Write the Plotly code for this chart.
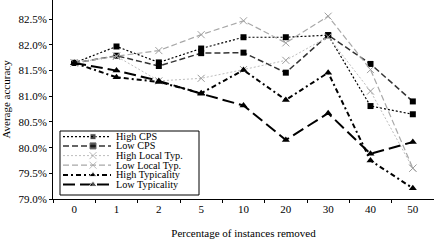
import plotly.graph_objects as go

cats = ["0", "1", "2", "5", "10", "20", "30", "40", "50"]
high_cps = [81.65, 81.97, 81.66, 81.93, 82.15, 82.15, 82.19, 80.81, 80.65]
low_cps = [81.65, 81.79, 81.59, 81.84, 81.85, 81.46, 82.19, 81.63, 80.90]
high_local = [81.65, 81.78, 81.30, 81.35, 81.52, 81.70, 82.16, 81.10, 79.60]
low_local = [81.65, 81.78, 81.89, 82.20, 82.47, 82.04, 82.56, 81.52, 79.60]
high_typ = [81.65, 81.37, 81.28, 81.06, 81.51, 80.93, 81.46, 79.75, 79.21]
low_typ = [81.65, 81.50, 81.30, 81.05, 80.82, 80.15, 80.67, 79.88, 80.11]
names = ["High CPS", "Low CPS", "High Local Typ.", "Low Local Typ.", "High Typicality", "Low Typicality"]

FONT = "Liberation Serif"
W, H = 434, 244
L, R, T, B = 53, 0, 0, 45
pw, ph = W - L - R, H - T - B

styles = [
    dict(line=dict(color="black", width=1.2, dash="2px,2px"),
         marker=dict(symbol="square", size=6, color="black")),
    dict(line=dict(color="#333333", width=1.5, dash="6px,3px"),
         marker=dict(symbol="square", size=6, color="black")),
    dict(line=dict(color="#bdbdbd", width=1, dash="2px,2px"),
         marker=dict(symbol="x-thin", size=7, color="#9a9a9a", line=dict(color="#9a9a9a", width=1))),
    dict(line=dict(color="#a8a8a8", width=1.2, dash="6px,3px"),
         marker=dict(symbol="x-thin", size=7, color="#a0a0a0", line=dict(color="#a0a0a0", width=1))),
    dict(line=dict(color="black", width=2, dash="5px,3px,2px,3px"),
         marker=dict(symbol="triangle-up", size=7, color="black")),
    dict(line=dict(color="black", width=2, dash="12px,5px"),
         marker=dict(symbol="triangle-up", size=7, color="black")),
]
series = [high_cps, low_cps, high_local, low_local, high_typ, low_typ]

fig = go.Figure()
for name, vals, st in zip(names, series, styles):
    fig.add_trace(go.Scatter(x=cats, y=vals, mode="lines+markers", name=name,
                             line=st["line"], marker=st["marker"], showlegend=False))

def px_x(p):
    return (p - L) / pw

def px_y(p):
    return (H - B - p) / ph

# manual legend
box_l, box_r, box_t, box_b = 60, 199, 131, 195
fig.add_shape(type="rect", xref="paper", yref="paper",
              x0=px_x(box_l), x1=px_x(box_r), y0=px_y(box_b), y1=px_y(box_t),
              line=dict(color="black", width=1), fillcolor="white", layer="below")
row_y = [136.7, 145.9, 155.6, 165.2, 174.9, 184.6]
for name, st, yy in zip(names, styles, row_y):
    fig.add_trace(go.Scatter(x=[px_x(63), px_x(93), px_x(111)], y=[px_y(yy)] * 3,
                             xaxis="x2", yaxis="y2", mode="lines+markers",
                             line=st["line"],
                             marker=dict(st["marker"], size=[0, st["marker"]["size"], 0]),
                             showlegend=False, hoverinfo="skip"))
    fig.add_annotation(x=px_x(115), y=px_y(yy), xref="paper", yref="paper",
                       text=name, showarrow=False, xanchor="left", yanchor="middle",
                       borderpad=0,
                       font=dict(family=FONT, size=10.2, color="black"))

fig.update_layout(
    width=W, height=H,
    margin=dict(l=L, r=R, t=T, b=B),
    paper_bgcolor="white", plot_bgcolor="white",
    font=dict(family=FONT, size=11, color="black"),
    xaxis=dict(type="category", range=[-0.5, 8.5], showline=True, linecolor="black",
               linewidth=1, ticks="outside", ticklen=3, tickcolor="black",
               tickson="boundaries", showgrid=False, zeroline=False,
               title=dict(text="Percentage of instances removed", standoff=15,
                          font=dict(family=FONT, size=11))),
    yaxis=dict(range=[79, 82.875], dtick=0.5, tick0=79, tickformat=".1f", ticksuffix="%",
               showline=True, linecolor="black", linewidth=1, ticks="outside",
               ticklen=3, tickcolor="black", showgrid=False, zeroline=False,
               title=dict(text="Average accuracy", standoff=6,
                          font=dict(family=FONT, size=11))),
    xaxis2=dict(overlaying="x", range=[0, 1], visible=False, fixedrange=True),
    yaxis2=dict(overlaying="y", range=[0, 1], visible=False, fixedrange=True),
)

fig.write_html("out.html")
